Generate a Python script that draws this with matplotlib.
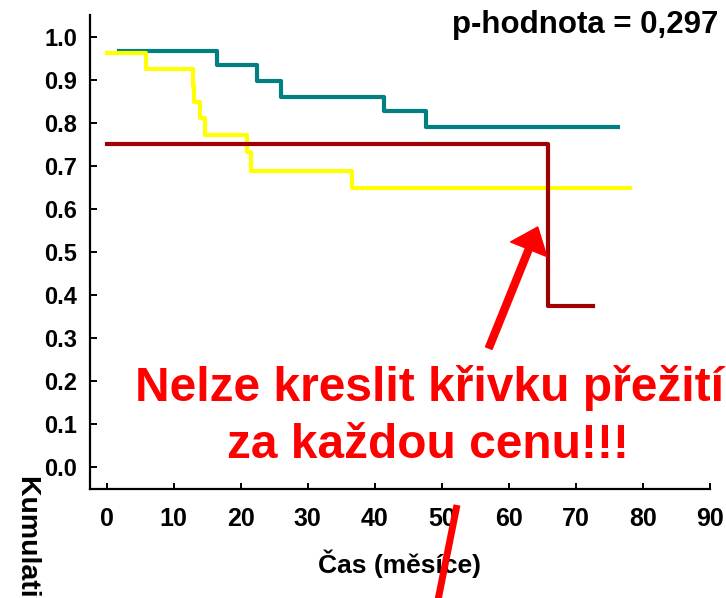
import matplotlib
matplotlib.use("Agg")
import matplotlib.pyplot as plt
from matplotlib.lines import Line2D

plt.rcParams['font.family'] = ['Liberation Sans', 'DejaVu Sans']
plt.rcParams['font.weight'] = 'bold'

# Kaplan-Meier odhady (čas v měsících, kumulativní přežití)
cas_1 = [1.9, 16.5, 22.4, 26.0, 41.4, 47.6, 76.3]
preziti_1 = [0.966, 0.933, 0.896, 0.860, 0.827, 0.789, 0.789]

cas_2 = [0.1, 5.8, 12.9, 13.05, 13.9, 14.7, 21.0, 21.6, 36.6, 78.1]
preziti_2 = [0.962, 0.924, 0.886, 0.848, 0.810, 0.771, 0.731, 0.688, 0.648, 0.648]

cas_3 = [0.1, 65.9, 72.6]
preziti_3 = [0.75, 0.375, 0.375]

x_ticks = [0, 10, 20, 30, 40, 50, 60, 70, 80, 90]
y_ticks = [0.0, 0.1, 0.2, 0.3, 0.4, 0.5, 0.6, 0.7, 0.8, 0.9, 1.0]

p_text = "p-hodnota = 0,297"
varovani = ["Nelze kreslit křivku přežití", "za každou cenu!!!"]

fig = plt.figure(figsize=(7.26, 5.98), dpi=100)
ax = fig.add_axes([0.1233, 0.1823, 0.9780 - 0.1233, 0.9749 - 0.1823])

ax.step(cas_1, preziti_1, where='post', color='#008080', lw=3)
ax.step(cas_2, preziti_2, where='post', color='#FFFF00', lw=3)
ax.step(cas_3, preziti_3, where='post', color='#A00000', lw=3)

ax.set_xlim(-2.56, 90)
ax.set_ylim(-0.05, 1.05)
ax.set_xticks(x_ticks)
ax.set_yticks(y_ticks)
ax.set_yticklabels([f"{v:.1f}" for v in y_ticks])

for s in ['top', 'right']:
    ax.spines[s].set_visible(False)
for s in ['left', 'bottom']:
    ax.spines[s].set_linewidth(1.6)

ax.tick_params(axis='y', direction='in', length=5, width=1.4, labelsize=17, pad=9)
ax.tick_params(axis='x', direction='in', length=4.5, width=1.4, labelsize=18, pad=13)

ax.set_xlabel("Čas (měsíce)", fontsize=19, fontweight='bold', labelpad=13)

fig.text(15 / 726, 1 - 475 / 598, "Kumulativní přežití", rotation=270,
         ha='left', va='top', fontsize=20.5, fontweight='bold')

fig.text(718 / 726, 1 - 33 / 598, p_text, ha='right', va='baseline',
         fontsize=22.5, fontweight='bold')

# šipka na strmý pokles
ax.annotate("", xy=(64.3, 0.558), xytext=(57.0, 0.277),
            arrowprops=dict(arrowstyle="simple,head_length=0.6,head_width=0.975,tail_width=0.175",
                            color='red', mutation_scale=28.8, shrinkA=0, shrinkB=0))

fig.text(429 / 726, 1 - 401 / 598, varovani[0], ha='center', va='baseline',
         fontsize=34.5, fontweight='bold', color='red')
fig.text(428 / 726, 1 - 458 / 598, varovani[1], ha='center', va='baseline',
         fontsize=34.5, fontweight='bold', color='red')

# přeškrtnutí u popisku osy x
fig.add_artist(Line2D([457 / 726, 434 / 726], [1 - 505 / 598, 1 - 620 / 598],
                      transform=fig.transFigure, color='red', lw=5,
                      solid_capstyle='butt'))

fig.savefig("out.png", dpi=100)
